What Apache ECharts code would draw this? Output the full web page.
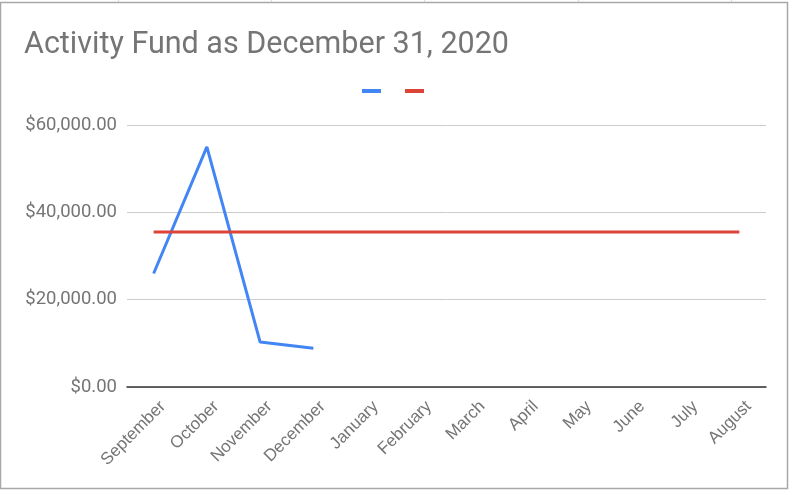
<!DOCTYPE html>
<html>
<head>
<meta charset="utf-8">
<script src="https://cdn.jsdelivr.net/npm/echarts@6/dist/echarts.min.js"></script>
<style>
  html, body { margin: 0; padding: 0; background: #fff; }
  #chart { width: 789px; height: 490px; }
</style>
</head>
<body>
<div id="chart"></div>
<script>
var months = ["September", "October", "November", "December", "January", "February",
  "March", "April", "May", "June", "July", "August"];
var actual = [26000, 55000, 10300, 8900, null, null, null, null, null, null, null, null];
var budget = [35500, 35500, 35500, 35500, 35500, 35500, 35500, 35500, 35500, 35500, 35500, 35500];
var yTicks = [0, 20000, 40000, 60000];

// faint sheet cell borders peeking above the chart frame
var cellEdges = [118, 271, 424, 578, 731];
var frameGraphics = [
  {
    type: "rect",
    shape: { x: 0.5, y: 2.5, width: 787, height: 486 },
    style: { fill: "none", stroke: "#a8a8a8", lineWidth: 1.5 },
    silent: true
  }
];
cellEdges.forEach(function (x) {
  frameGraphics.push({
    type: "line",
    shape: { x1: x + 0.5, y1: 0, x2: x + 0.5, y2: 2 },
    style: { stroke: "#d9d9d9", lineWidth: 1 },
    silent: true
  });
});

var myChart = echarts.init(document.getElementById("chart"));
var option = {
  animation: false,
  textStyle: { fontFamily: "Roboto" },
  title: {
    text: "Activity Fund as December 31, 2020",
    left: 19,
    top: 25,
    textStyle: { color: "#757575", fontSize: 30.5, fontWeight: "normal", fontFamily: "Roboto" }
  },
  legend: {
    top: 84,
    left: 357,
    itemWidth: 19,
    itemHeight: 4,
    itemGap: 24,
    icon: "rect",
    formatter: function () { return ""; },
    data: ["Actual", "Budget"]
  },
  grid: { left: 127, right: 23, top: 125, bottom: 103 },
  xAxis: {
    type: "category",
    data: months,
    boundaryGap: true,
    axisTick: { show: false },
    axisLine: { lineStyle: { color: "#333", width: 1.5 } },
    axisLabel: {
      interval: 0,
      rotate: 45,
      color: "#757575",
      fontSize: 17,
      fontFamily: "Liberation Sans",
      margin: 26,
      padding: [0, -13, 0, 0]
    }
  },
  yAxis: {
    type: "value",
    min: yTicks[0],
    max: yTicks[yTicks.length - 1],
    interval: 20000,
    axisLine: { show: false },
    axisTick: { show: false },
    splitLine: { lineStyle: { color: "#cccccc", width: 1 } },
    axisLabel: {
      color: "#757575",
      fontSize: 18.5,
      margin: 10,
      formatter: function (v) {
        return "$" + v.toLocaleString("en-US", { minimumFractionDigits: 2, maximumFractionDigits: 2 });
      }
    }
  },
  graphic: frameGraphics,
  series: [
    {
      name: "Actual",
      type: "line",
      data: actual,
      symbol: "none",
      connectNulls: false,
      itemStyle: { color: "#4285f4" },
      lineStyle: { color: "#4285f4", width: 3 }
    },
    {
      name: "Budget",
      type: "line",
      data: budget,
      symbol: "none",
      itemStyle: { color: "#db4437" },
      lineStyle: { color: "#db4437", width: 3 }
    }
  ]
};
myChart.setOption(option);
</script>
</body>
</html>
